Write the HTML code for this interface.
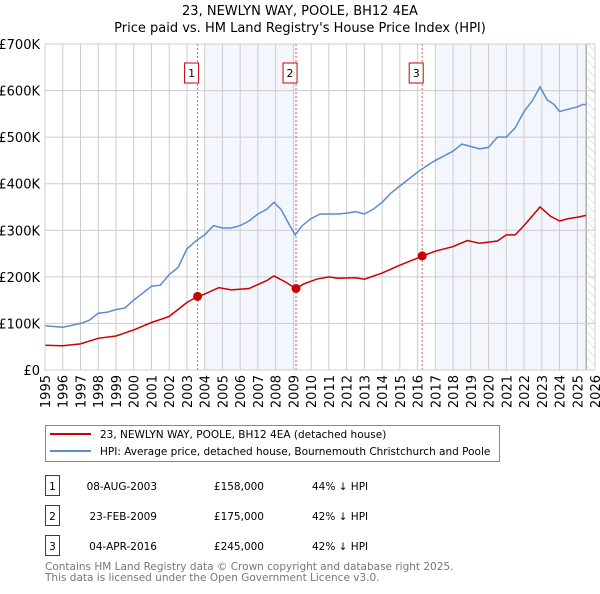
<!DOCTYPE html>
<html><head><meta charset="utf-8">
<style>
body{margin:0;background:#fff;font-family:"DejaVu Sans","Liberation Sans",sans-serif;}
svg text{font-family:"DejaVu Sans","Liberation Sans",sans-serif;}
</style></head>
<body>
<svg id="chart" width="600" height="590" viewBox="0 0 600 590" xmlns="http://www.w3.org/2000/svg">
<defs>
<pattern id="hatch" width="6" height="6" patternUnits="userSpaceOnUse" patternTransform="rotate(-45)">
<line x1="0" y1="0" x2="0" y2="6" stroke="#ccc" stroke-width="1"/>
</pattern>
</defs>
<text x="300" y="15" text-anchor="middle" font-size="13">23, NEWLYN WAY, POOLE, BH12 4EA</text>
<text x="300" y="32" text-anchor="middle" font-size="13">Price paid vs. HM Land Registry's House Price Index (HPI)</text>
<g id="plot"></g>
<g id="legend">
<rect x="45.5" y="425.5" width="454" height="36" fill="#fff" stroke="#888"/>
<line x1="50" y1="434" x2="91" y2="434" stroke="#cc0000" stroke-width="2"/>
<text x="100" y="438" font-size="10.5">23, NEWLYN WAY, POOLE, BH12 4EA (detached house)</text>
<line x1="50" y1="451" x2="91" y2="451" stroke="#5b8bd0" stroke-width="2"/>
<text x="100" y="455" font-size="10.5">HPI: Average price, detached house, Bournemouth Christchurch and Poole</text>
</g>
<g id="table" font-size="10.5">
<rect x="45.5" y="475.5" width="14" height="20" fill="#fff" stroke="#cc0000"/><text x="52.5" y="490" text-anchor="middle">1</text>
<text x="157" y="490" text-anchor="end">08-AUG-2003</text><text x="264" y="490" text-anchor="end">£158,000</text><text x="312" y="490">44% ↓ HPI</text>
<rect x="45.5" y="505.5" width="14" height="20" fill="#fff" stroke="#cc0000"/><text x="52.5" y="520" text-anchor="middle">2</text>
<text x="157" y="520" text-anchor="end">23-FEB-2009</text><text x="264" y="520" text-anchor="end">£175,000</text><text x="312" y="520">42% ↓ HPI</text>
<rect x="45.5" y="535.5" width="14" height="20" fill="#fff" stroke="#cc0000"/><text x="52.5" y="550" text-anchor="middle">3</text>
<text x="157" y="550" text-anchor="end">04-APR-2016</text><text x="264" y="550" text-anchor="end">£245,000</text><text x="312" y="550">42% ↓ HPI</text>
</g>
<text x="45" y="570" font-size="10.5" fill="#777">Contains HM Land Registry data © Crown copyright and database right 2025.</text>
<text x="45" y="581" font-size="10.5" fill="#777">This data is licensed under the Open Government Licence v3.0.</text>
</svg>
<script>
const yTicks=[0,100,200,300,400,500,600,700];
const yTickLabels=["£0","£100K","£200K","£300K","£400K","£500K","£600K","£700K"];
const xYears=[1995,1996,1997,1998,1999,2000,2001,2002,2003,2004,2005,2006,2007,2008,2009,2010,2011,2012,2013,2014,2015,2016,2017,2018,2019,2020,2021,2022,2023,2024,2025,2026];
const hpiT=[1995,1996,1997,1997.5,1998,1998.5,1999,1999.5,2000,2000.5,2001,2001.5,2002,2002.5,2003,2003.6,2004,2004.5,2005,2005.5,2006,2006.5,2007,2007.5,2007.9,2008.3,2008.8,2009.1,2009.5,2010,2010.5,2011,2011.5,2012,2012.5,2013,2013.5,2014,2014.5,2015,2015.5,2016,2016.5,2017,2017.5,2018,2018.5,2019,2019.5,2020,2020.5,2021,2021.5,2022,2022.5,2022.9,2023.3,2023.7,2024,2024.5,2025,2025.3,2025.5];
const hpiV=[95,92,100,107,122,124,130,133,150,165,180,182,205,220,260,280,290,310,305,305,310,320,335,345,360,345,310,290,310,325,335,335,335,337,340,335,345,360,380,395,410,425,438,450,460,470,485,480,475,478,500,500,520,555,580,608,580,570,555,560,565,570,570];
const ppT=[1995,1996,1997,1998,1999,2000,2001,2002,2003,2003.6,2004,2004.8,2005.5,2006.5,2007.5,2007.9,2008.5,2009.15,2009.6,2010.3,2011,2011.5,2012.5,2013,2014,2015,2016.3,2017,2018,2018.8,2019.5,2020.5,2021,2021.5,2022,2022.9,2023.5,2024,2024.5,2025,2025.5];
const ppV=[53,52,56,68,73,86,102,115,145,158,163,177,172,175,192,202,190,175,185,195,200,197,198,195,208,225,245,255,265,278,272,277,290,290,310,350,330,320,325,328,332];
const saleT=[2003.6,2009.15,2016.26];
const saleV=[158,175,245];
const saleLabels=["1","2","3"];
const shadeRanges=[[2004,2009.15],[2017,2025.5]];

const X0=45,X1=595,Y0=370,Y1=44;
const x=t=>X0+(t-1995)*(X1-X0)/31;
const y=v=>Y0-v*(Y0-Y1)/700;
const NS="http://www.w3.org/2000/svg";
const g=document.getElementById('plot');
function mk(tag,attrs,parent){const e=document.createElementNS(NS,tag);for(const k in attrs)e.setAttribute(k,attrs[k]);(parent||g).appendChild(e);return e;}

shadeRanges.forEach(r=>{
const e=mk('rect',{x:x(r[0]),y:Y1,width:x(r[1])-x(r[0]),height:Y0-Y1,fill:'#eef3fc',opacity:0.7});


});
const h=mk('rect',{x:x(2025.5),y:Y1,width:X1-x(2025.5),height:Y0-Y1,fill:'url(#hatch)'});


mk('line',{x1:x(2025.5),y1:Y1,x2:x(2025.5),y2:Y0,stroke:'#888','stroke-width':1});

yTicks.forEach((v,i)=>{
const l=mk('line',{x1:X0,y1:y(v),x2:X1,y2:y(v),stroke:'#ccc','stroke-width':1});


const t=mk('text',{x:X0-5,y:y(v)+5,'text-anchor':'end','font-size':'13'});
t.textContent=yTickLabels[i];


});
xYears.forEach(yr=>{
const l=mk('line',{x1:x(yr),y1:Y1,x2:x(yr),y2:Y0,stroke:'#ccc','stroke-width':1});


const t=mk('text',{x:0,y:0,'text-anchor':'end','font-size':'13',transform:`translate(${x(yr)+5},375) rotate(-90)`});
t.textContent=yr;


});

saleT.forEach((t,i)=>{
const l=mk('line',{x1:x(t),y1:Y1,x2:x(t),y2:Y0,stroke:'#e06060','stroke-width':1,'stroke-dasharray':'2,2'});


const b=mk('rect',{x:x(t)-13,y:63,width:14,height:20,fill:'#fff',stroke:'#cc0000'});


const tx=mk('text',{x:x(t)-6,y:77,'text-anchor':'middle','font-size':'11'});
tx.textContent=saleLabels[i];


});

const hp=mk('path',{d:hpiT.map((t,i)=>(i?'L':'M')+x(t).toFixed(1)+','+y(hpiV[i]).toFixed(1)).join(''),fill:'none',stroke:'#5b8bd0','stroke-width':1.5});


const pp=mk('path',{d:ppT.map((t,i)=>(i?'L':'M')+x(t).toFixed(1)+','+y(ppV[i]).toFixed(1)).join(''),fill:'none',stroke:'#cc0000','stroke-width':1.5});


saleT.forEach((t,i)=>{
const c=mk('circle',{cx:x(t),cy:y(saleV[i]),r:4.5,fill:'#cc0000'});


});
const fr=mk('rect',{x:X0,y:Y1,width:X1-X0,height:Y0-Y1,fill:'none',stroke:'#ccc'});


</script>
</body></html>
